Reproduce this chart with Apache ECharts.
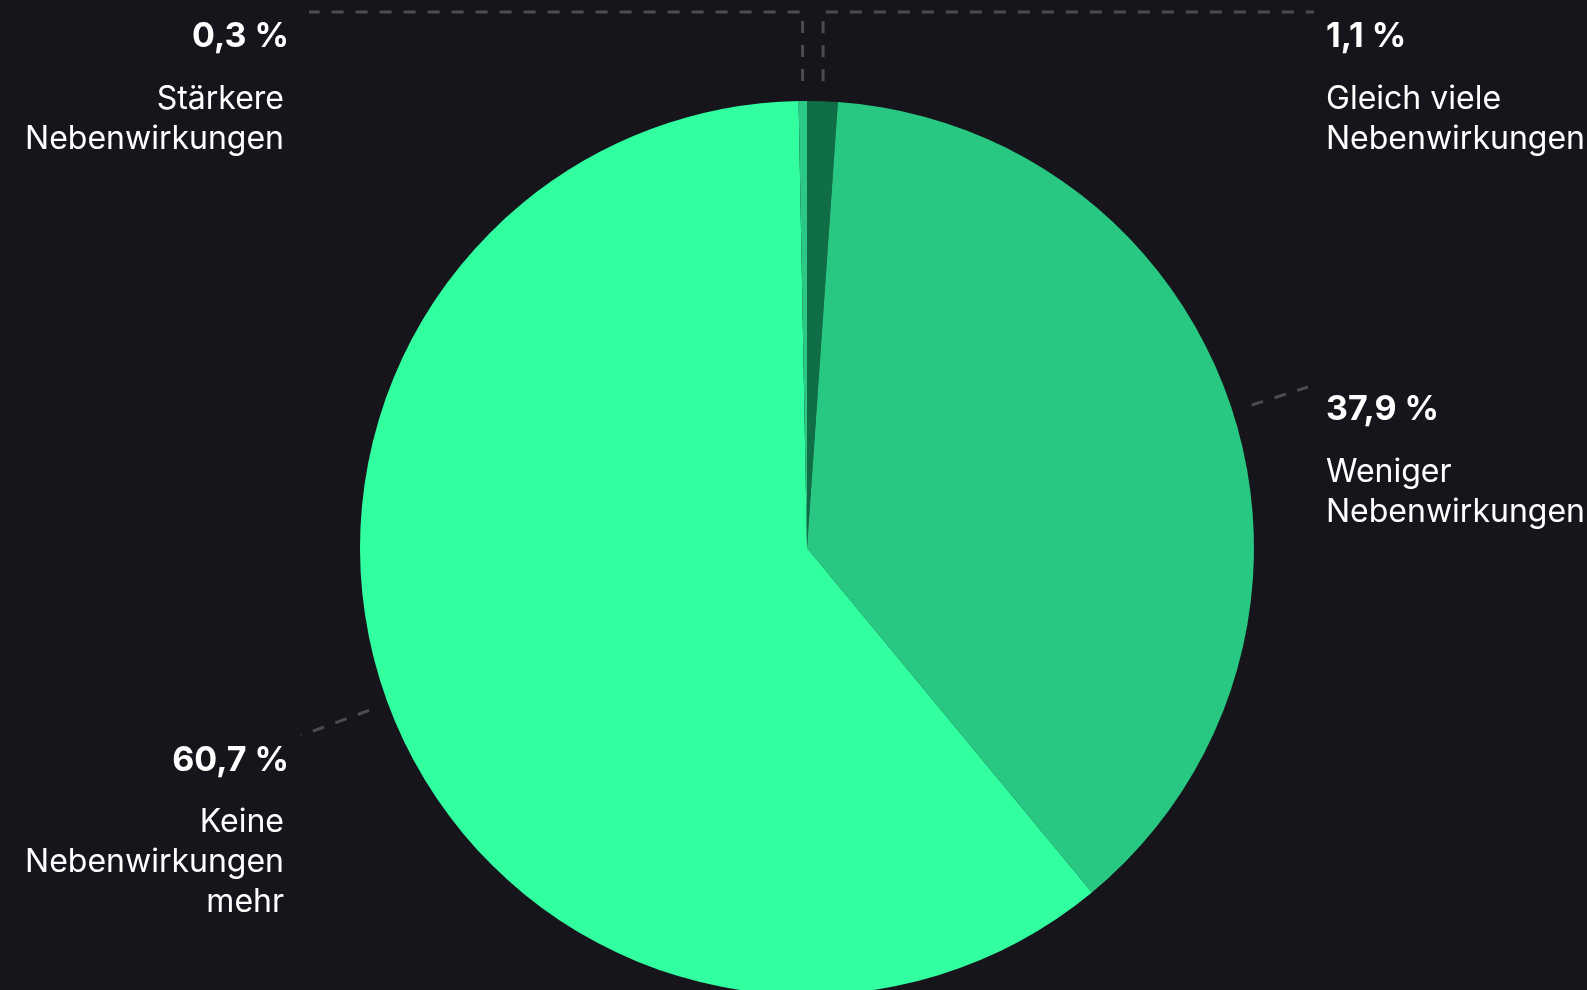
<!DOCTYPE html>
<html>
<head>
<meta charset="utf-8">
<script src="https://cdn.jsdelivr.net/npm/echarts@6/dist/echarts.min.js"></script>
<style>
  html, body { margin: 0; padding: 0; background: #15151b; }
  #main { width: 1587px; height: 990px; }
</style>
</head>
<body>
<div id="main"></div>
<script>
// data, clockwise from 12 o'clock
var categories = ['Gleich viele Nebenwirkungen', 'Weniger Nebenwirkungen', 'Keine Nebenwirkungen mehr', 'Stärkere Nebenwirkungen'];
var shares = [1.1, 37.9, 60.7, 0.3];
var colors = ['#0f6e46', '#29c882', '#31ffa0', '#2cc886'];

var cx = 807, cy = 548, r = 447;
var topLineY = 12;
var fontFamily = 'Inter';

var myChart = echarts.init(document.getElementById('main'));

// word-wrap the category names
var measureCtx = document.createElement('canvas').getContext('2d');
measureCtx.font = '32px ' + fontFamily;
function wrap(text, maxW) {
  var words = text.split(' '), lines = [], cur = '';
  words.forEach(function (w) {
    var t = cur ? cur + ' ' + w : w;
    if (cur && measureCtx.measureText(t).width > maxW) { lines.push(cur); cur = w; }
    else cur = t;
  });
  if (cur) lines.push(cur);
  return lines;
}

// mid angle of every slice (radians, math orientation)
var total = shares.reduce(function (a, b) { return a + b; }, 0);
var midAngles = [];
var acc = 0;
shares.forEach(function (v) {
  var mid = 90 - (acc + v / 2) / total * 360;
  midAngles.push(mid * Math.PI / 180);
  acc += v;
});

var option = {
  backgroundColor: '#15151b',
  animation: false,
  series: [{
    type: 'pie',
    center: [cx, cy],
    radius: [0, r],
    startAngle: 90,
    clockwise: true,
    silent: true,
    avoidLabelOverlap: false,
    itemStyle: { borderWidth: 0 },
    emphasis: { disabled: true },
    data: categories.map(function (c, i) {
      return { name: c, value: shares[i], itemStyle: { color: colors[i] } };
    }),
    label: {
      show: true,
      position: 'outside',
      color: '#ffffff',
      fontFamily: fontFamily,
      formatter: function (p) {
        var pct = p.value.toFixed(1).replace('.', ',') + ' %';
        var left = Math.cos(midAngles[p.dataIndex]) < 0;
        var st = left ? 'nl' : 'n';
        var lines = wrap(p.name, 275).map(function (l) { return '{' + st + '|' + l + '}'; });
        return '{p|' + pct + '}\n{g| }\n' + lines.join('\n');
      },
      rich: {
        p: { fontSize: 34, fontWeight: 700, lineHeight: 40, color: '#ffffff', fontFamily: fontFamily },
        g: { fontSize: 1, lineHeight: 22 },
        n: { fontSize: 32, lineHeight: 40, color: '#ffffff', fontFamily: fontFamily },
        nl: { fontSize: 32, lineHeight: 40, color: '#ffffff', fontFamily: fontFamily, padding: [0, 5, 0, 0] }
      }
    },
    labelLine: {
      show: true,
      lineStyle: { color: '#4b4b52', width: 3, type: [12, 12] }
    },
    labelLayout: function (params) {
      var a = midAngles[params.dataIndex];
      var dx = Math.cos(a), dy = -Math.sin(a);
      var sx = cx + (r + 20) * dx, sy = cy + (r + 20) * dy;
      var right = dx >= 0;
      var labelX = right ? cx + r + 72 : cx - r - 71;
      if (Math.abs(Math.sin(a)) > 0.9) {
        // slices near the top: go straight up, then sideways
        var endX = right ? labelX - 12 : labelX + 20;
        return {
          x: labelX, y: topLineY + 5, align: right ? 'left' : 'right', verticalAlign: 'top',
          labelLinePoints: [[sx, sy], [sx, topLineY], [endX, topLineY]]
        };
      }
      var ex = right ? labelX - 18 : labelX + 12;
      var ey = cy + (ex - cx) / dx * dy;
      return {
        x: labelX, y: ey + (right ? 3 : 5), align: right ? 'left' : 'right', verticalAlign: 'top',
        labelLinePoints: [[sx, sy], [ex, ey], [ex, ey]]
      };
    }
  }]
};
myChart.setOption(option);
</script>
</body>
</html>
